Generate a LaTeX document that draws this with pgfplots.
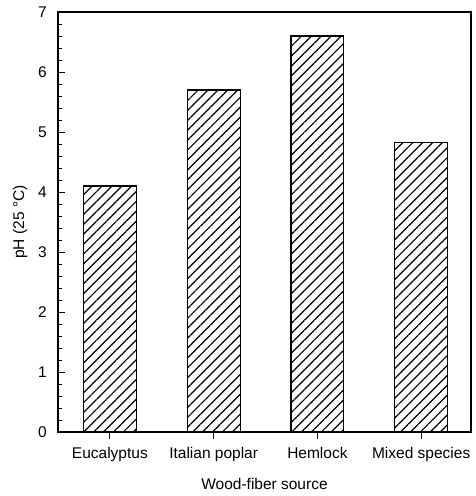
\documentclass[border=0pt]{standalone}
\usepackage{pgfplots}
\pgfplotsset{compat=1.18}
\usepackage{fontspec}
\setmainfont{Liberation Sans}
\usetikzlibrary{patterns.meta}
\begin{document}
\fontsize{15.5}{18}\selectfont
\begin{tikzpicture}
\useasboundingbox (-58pt,-64pt) rectangle (417pt,432pt);
\begin{axis}[
  at={(0,0)}, anchor=south west,
  scale only axis,
  width=413pt, height=420pt,
  xmin=0.5, xmax=4.48,
  ymin=0, ymax=7,
  xtick={1,2,3,4},
  xticklabels={Eucalyptus, Italian poplar, Hemlock, Mixed species},
  ytick={0,1,...,7},
  minor y tick num=4,
  xtick pos=bottom,
  ytick pos=left,
  xtick align=outside,
  ytick align=inside,
  major tick length=7pt,
  minor tick length=4pt,
  tick style={black, line width=1pt},
  tick label style={font=\fontsize{15.5}{18}\selectfont},
  yticklabel style={xshift=-6pt},
  xticklabel style={yshift=-3pt},
  /pgf/number format/assume math mode=true,
  xlabel={Wood-fiber source},
  ylabel={pH (25 °C)},
  label style={font=\fontsize{15.5}{18}\selectfont},
  xlabel style={at={(axis description cs:0.5,-0.124)}, anchor=center},
  ylabel style={at={(axis description cs:-0.092,0.5)}, anchor=center},
  axis line style={line width=1.4pt},
]
\addplot[ybar, bar width=0.51, draw=black, line width=1.2pt,
  pattern={Lines[angle=45, distance=7pt, line width=1.2pt]}]
  coordinates {(1,4.1) (2,5.7) (3,6.6) (4,4.82)};
\end{axis}
\end{tikzpicture}
\end{document}
